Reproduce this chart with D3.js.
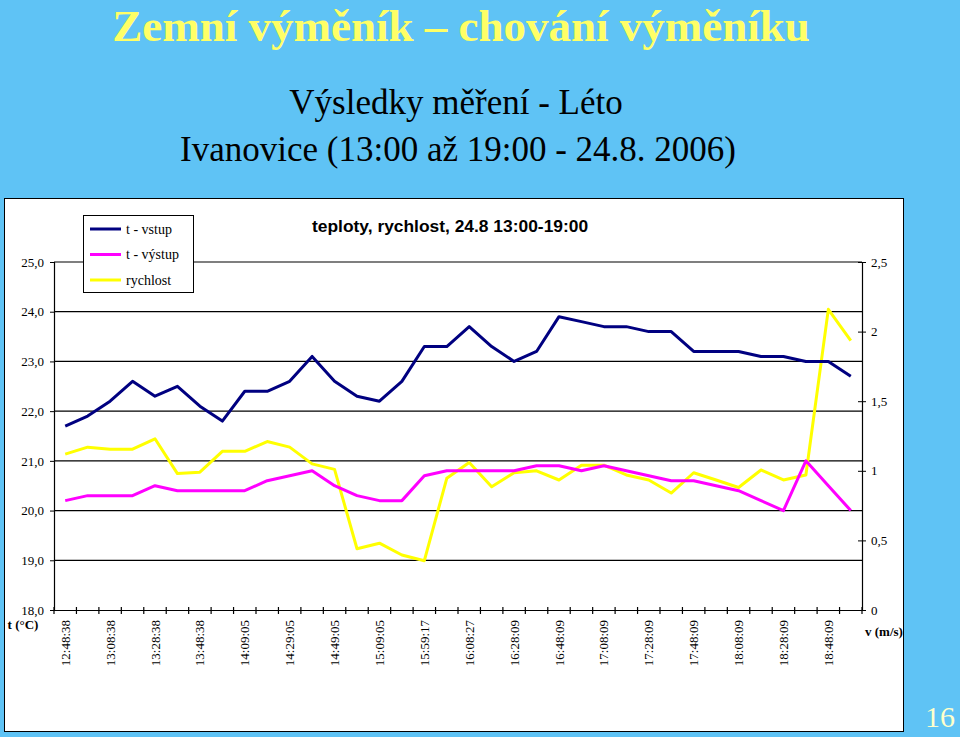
<!DOCTYPE html>
<html><head><meta charset="utf-8">
<script src="https://cdn.jsdelivr.net/npm/d3@7"></script>
<style>
html,body{margin:0;padding:0;background:#5fc3f5;}
svg{display:block;}
</style></head>
<body>
<svg id="c" width="960" height="737"></svg>
<script>
const categories = ["12:48:38","12:58:38","13:08:38","13:18:38","13:28:38","13:38:38","13:48:38","13:59:05",
"14:09:05","14:19:05","14:29:05","14:39:05","14:49:05","14:59:05","15:09:05","15:19:05",
"15:59:17","16:03:27","16:08:27","16:18:09","16:28:09","16:38:09","16:48:09","16:58:09",
"17:08:09","17:18:09","17:28:09","17:38:09","17:48:09","17:58:09","18:08:09","18:18:09",
"18:28:09","18:38:09","18:48:09","18:58:09"];
const tVstup = [21.7,21.9,22.2,22.6,22.3,22.5,22.1,21.8,22.4,22.4,22.6,23.1,22.6,22.3,22.2,22.6,
23.3,23.3,23.7,23.3,23.0,23.2,23.9,23.8,23.7,23.7,23.6,23.6,23.2,23.2,23.2,23.1,23.1,23.0,23.0,22.7];
const tVystup = [20.2,20.3,20.3,20.3,20.5,20.4,20.4,20.4,20.4,20.6,20.7,20.8,20.5,20.3,20.2,20.2,
20.7,20.8,20.8,20.8,20.8,20.9,20.9,20.8,20.9,20.8,20.7,20.6,20.6,20.5,20.4,20.2,20.0,21.0,20.5,20.0];
const rychlost = [1.12,1.17,1.155,1.155,1.23,0.98,0.99,1.14,1.14,1.21,1.17,1.05,1.01,0.44,0.48,0.395,
0.354,0.946,1.06,0.886,0.986,1.0,0.934,1.04,1.04,0.97,0.934,0.84,0.986,0.934,0.88,1.006,0.934,0.97,2.16,1.935];
const leftTicks = [18,19,20,21,22,23,24,25];
const rightTicks = [0,0.5,1,1.5,2,2.5];
const xLabels = categories.filter((d,i)=>i%2===0);
const seriesNames = ["t - vstup","t - výstup","rychlost"];
const seriesColors = ["#000080","#ff00ff","#ffff00"];

const svg = d3.select("#c");
const serif = "'Liberation Serif','Times New Roman',serif";
const sans = "'Liberation Sans',Arial,sans-serif";

// titles
svg.append("text").attr("x",461).attr("y",41).attr("text-anchor","middle")
  .attr("font-family",serif).attr("font-weight","bold").attr("font-size",45)
  .attr("fill","#ffff66").text("Zemní výměník – chování výměníku");
svg.append("text").attr("x",456).attr("y",114).attr("text-anchor","middle")
  .attr("font-family",serif).attr("font-size",35).attr("fill","#000").text("Výsledky měření - Léto");
svg.append("text").attr("x",458).attr("y",161).attr("text-anchor","middle")
  .attr("font-family",serif).attr("font-size",35).attr("fill","#000").text("Ivanovice (13:00 až 19:00 - 24.8. 2006)");
svg.append("text").attr("x",940).attr("y",727).attr("text-anchor","middle")
  .attr("font-family",serif).attr("font-size",30).attr("fill","#ffffcc").text("16");

// chart box
svg.append("rect").attr("x",4.5).attr("y",198.5).attr("width",899).attr("height",533)
  .attr("fill","#fff").attr("stroke","#000").attr("stroke-width",1);

const x0=54, x1=862, yTop=262, yBot=610;
const x = d3.scaleBand().domain(categories).range([x0,x1]).padding(0);
const yL = d3.scaleLinear().domain([18,25]).range([yBot,yTop]);
const yR = d3.scaleLinear().domain([0,2.5]).range([yBot,yTop]);
const cx = d => x(d)+x.bandwidth()/2;

// gridlines
svg.append("g").selectAll("line").data(leftTicks.slice(1)).join("line")
  .attr("x1",x0).attr("x2",x1).attr("y1",d=>yL(d)).attr("y2",d=>yL(d))
  .attr("stroke","#000").attr("stroke-width",1.2);

// chart title
svg.append("text").attr("x",312).attr("y",232).attr("font-family",sans).attr("font-weight","bold")
  .attr("font-size",17.4).attr("fill","#000").text("teploty, rychlost, 24.8 13:00-19:00");

// lines
const lineL = d3.line().x((d,i)=>cx(categories[i])).y(d=>yL(d));
const lineR = d3.line().x((d,i)=>cx(categories[i])).y(d=>yR(d));
svg.append("path").datum(rychlost).attr("d",lineR).attr("fill","none").attr("stroke",seriesColors[2]).attr("stroke-width",3).attr("stroke-linejoin","round");
svg.append("path").datum(tVystup).attr("d",lineL).attr("fill","none").attr("stroke",seriesColors[1]).attr("stroke-width",3).attr("stroke-linejoin","round");
svg.append("path").datum(tVstup).attr("d",lineL).attr("fill","none").attr("stroke",seriesColors[0]).attr("stroke-width",3).attr("stroke-linejoin","round");

// left axis
const gL = svg.append("g").attr("transform",`translate(${x0},0)`)
  .call(d3.axisLeft(yL).tickValues(leftTicks).tickSize(4).tickPadding(6)
    .tickFormat(d=>d.toFixed(1).replace(".",",")));
gL.select(".domain").attr("stroke","#000").attr("stroke-width",1.2);
gL.selectAll("text").attr("font-family",serif).attr("font-size",13).attr("fill","#000");

// right axis
const gR = svg.append("g").attr("transform",`translate(${x1},0)`)
  .call(d3.axisRight(yR).tickValues(rightTicks).tickSize(4).tickPadding(5)
    .tickFormat(d=>String(d).replace(".",",")));
gR.select(".domain").attr("stroke","#000").attr("stroke-width",1.2);
gR.selectAll(".tick line").attr("x1",-4).attr("x2",4);
gR.selectAll("text").attr("font-family",serif).attr("font-size",13).attr("fill","#000");

// bottom axis
const gB = svg.append("g").attr("transform",`translate(0,${yBot})`)
  .call(d3.axisBottom(x).tickValues(xLabels).tickSize(0).tickPadding(0));
gB.select(".domain").attr("stroke","#000").attr("stroke-width",1.2);
gB.selectAll("text").attr("font-family",serif).attr("font-size",13).attr("fill","#000")
  .attr("text-anchor","end").attr("transform","rotate(-90)").attr("x",-10).attr("y",0).attr("dy","0.35em");
// band boundary ticks
const bounds = categories.map(c=>x(c)).concat([x1]);
gB.append("g").selectAll("line").data(bounds).join("line")
  .attr("x1",d=>d).attr("x2",d=>d).attr("y1",-3).attr("y2",4).attr("stroke","#000").attr("stroke-width",1.2);

// axis titles
svg.append("text").attr("x",23).attr("y",629).attr("text-anchor","middle").attr("font-family",serif)
  .attr("font-weight","bold").attr("font-size",13).text("t (°C)");
svg.append("text").attr("x",884).attr("y",636).attr("text-anchor","middle").attr("font-family",serif)
  .attr("font-weight","bold").attr("font-size",13).text("v (m/s)");

// legend
const lg = svg.append("g");
lg.append("rect").attr("x",83.5).attr("y",215.5).attr("width",110).attr("height",77)
  .attr("fill","#fff").attr("stroke","#000").attr("stroke-width",1);
seriesNames.forEach((n,i)=>{
  const yy = 229 + i*25.5;
  lg.append("line").attr("x1",90).attr("x2",121).attr("y1",yy).attr("y2",yy)
    .attr("stroke",seriesColors[i]).attr("stroke-width",3);
  lg.append("text").attr("x",126).attr("y",yy+4.5).attr("font-family",serif).attr("font-size",14)
    .attr("fill","#000").text(n);
});
</script>
</body></html>
